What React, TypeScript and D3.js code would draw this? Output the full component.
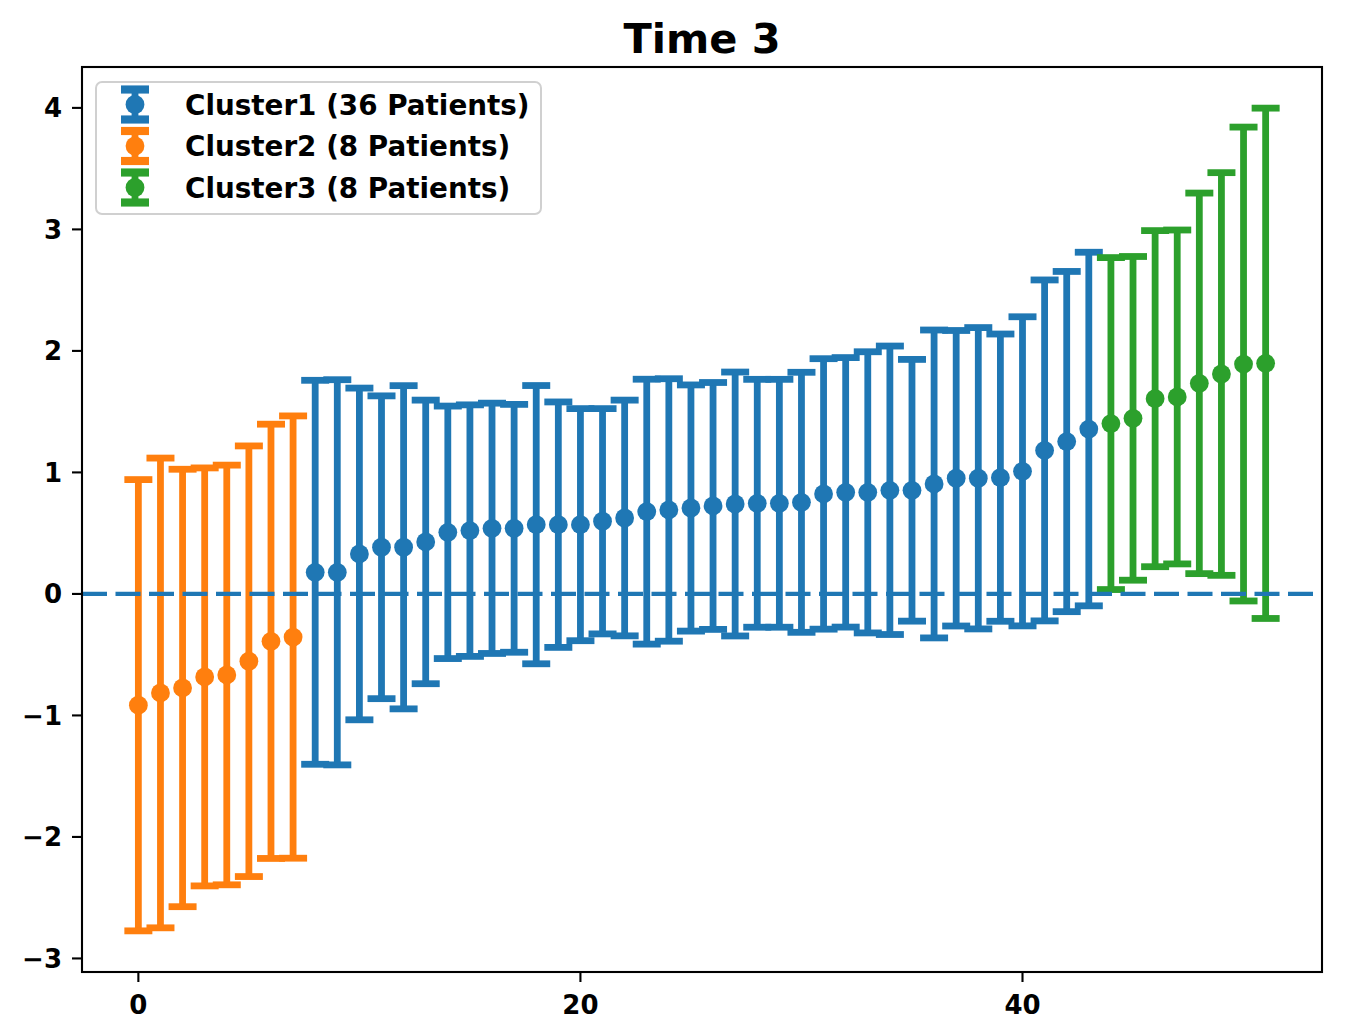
import React from "react";
import * as d3 from "d3";

// ---- data ----
const title = "Time 3";
const clusterNames = ["Cluster1 (36 Patients)", "Cluster2 (8 Patients)", "Cluster3 (8 Patients)"];
const clusterColors = ["#1f77b4", "#ff7f0e", "#2ca02c"];

// patient index positions
const cluster2X = d3.range(0, 8);
const cluster1X = d3.range(8, 44);
const cluster3X = d3.range(44, 52);

const cluster2Mean = [-0.916, -0.815, -0.774, -0.683, -0.667, -0.554, -0.39, -0.355];
const cluster2Err = [1.857, 1.933, 1.8, 1.72, 1.727, 1.772, 1.787, 1.82];

const cluster1Mean = [
  0.178, 0.178, 0.329, 0.384, 0.384, 0.428, 0.507, 0.521, 0.54, 0.54, 0.57, 0.57,
  0.57, 0.598, 0.625, 0.677, 0.691, 0.707, 0.724, 0.74, 0.746, 0.746, 0.754, 0.823,
  0.836, 0.836, 0.853, 0.853, 0.905, 0.952, 0.952, 0.957, 1.009, 1.181, 1.254, 1.357,
];
const cluster1Err = [
  1.58, 1.585, 1.365, 1.246, 1.33, 1.167, 1.039, 1.035, 1.03, 1.02, 1.145, 1.01,
  0.955, 0.927, 0.97, 1.09, 1.08, 1.013, 1.016, 1.086, 1.02, 1.02, 1.07, 1.113,
  1.109, 1.157, 1.187, 1.077, 1.267, 1.216, 1.24, 1.182, 1.272, 1.403, 1.4, 1.455,
];

const cluster3Mean = [1.402, 1.445, 1.607, 1.621, 1.733, 1.81, 1.892, 1.898];
const cluster3Err = [1.366, 1.332, 1.383, 1.374, 1.566, 1.657, 1.95, 2.1];

const xTicks = [0, 20, 40];
const yTicks = [-3, -2, -1, 0, 1, 2, 3, 4];

// ---- layout ----
const W = 1345;
const H = 1025;
const L = 82, R = 1322, T = 67, B = 972;
const FONT = "'DejaVu Sans', sans-serif";

type Pt = { x: number; m: number; e: number };
const mk = (xs: number[], ms: number[], es: number[]): Pt[] => xs.map((x, i) => ({ x, m: ms[i], e: es[i] }));

const series = [
  { name: clusterNames[0], color: clusterColors[0], pts: mk(cluster1X, cluster1Mean, cluster1Err) },
  { name: clusterNames[1], color: clusterColors[1], pts: mk(cluster2X, cluster2Mean, cluster2Err) },
  { name: clusterNames[2], color: clusterColors[2], pts: mk(cluster3X, cluster3Mean, cluster3Err) },
];

const allPts = series.flatMap((s) => s.pts);
const xMin = d3.min(allPts, (p) => p.x)!;
const xMax = d3.max(allPts, (p) => p.x)!;
const yMin = d3.min(allPts, (p) => p.m - p.e)!;
const yMax = d3.max(allPts, (p) => p.m + p.e)!;
const xPad = (xMax - xMin) * 0.05;
const yPad = (yMax - yMin) * 0.05;

const x = d3.scaleLinear().domain([xMin - xPad, xMax + xPad]).range([L, R]);
const y = d3.scaleLinear().domain([yMin - yPad, yMax + yPad]).range([B, T]);

const LW = 6.8;
const CAP = 28;
const DOT_R = 9.4;

const fmt = (v: number) => (v < 0 ? "\u2212" + Math.abs(v) : String(v));

export default function App() {
  return (
    <div style={{ position: "absolute", left: 0, top: 0 }}>
      <svg width={W} height={H} viewBox={`0 0 ${W} ${H}`} style={{ display: "block", background: "#fff" }}>
        <rect x={0} y={0} width={W} height={H} fill="#fff" />
        <defs>
          <clipPath id="ax">
            <rect x={L} y={T} width={R - L} height={B - T} />
          </clipPath>
        </defs>
        <g clipPath="url(#ax)">
          {series.map((s) => (
            <g key={s.name} stroke={s.color} fill={s.color}>
              {s.pts.map((p) => {
                const cx = x(p.x);
                const y1 = y(p.m + p.e);
                const y2 = y(p.m - p.e);
                return (
                  <g key={p.x}>
                    <line x1={cx} x2={cx} y1={y1} y2={y2} strokeWidth={LW} />
                    <line x1={cx - CAP / 2} x2={cx + CAP / 2} y1={y1} y2={y1} strokeWidth={LW} />
                    <line x1={cx - CAP / 2} x2={cx + CAP / 2} y1={y2} y2={y2} strokeWidth={LW} />
                    <circle cx={cx} cy={y(p.m)} r={DOT_R} stroke="none" />
                  </g>
                );
              })}
            </g>
          ))}
          <line x1={L} x2={R} y1={y(0)} y2={y(0)} stroke="#1f77b4" strokeWidth={4.4} strokeDasharray="25 8.5" />
        </g>
        {/* frame */}
        <rect x={L} y={T} width={R - L} height={B - T} fill="none" stroke="#000" strokeWidth={2.1} />
        {/* y ticks */}
        {yTicks.map((t) => (
          <g key={t}>
            <line x1={L - 10} x2={L} y1={y(t)} y2={y(t)} stroke="#000" strokeWidth={2.1} />
            <text x={L - 20} y={y(t)} dy="0.36em" textAnchor="end" fontFamily={FONT} fontWeight="bold" fontSize={26}>
              {fmt(t)}
            </text>
          </g>
        ))}
        {/* x ticks */}
        {xTicks.map((t) => (
          <g key={t}>
            <line x1={x(t)} x2={x(t)} y1={B} y2={B + 10} stroke="#000" strokeWidth={2.1} />
            <text x={x(t)} y={B + 42} textAnchor="middle" fontFamily={FONT} fontWeight="bold" fontSize={26}>
              {fmt(t)}
            </text>
          </g>
        ))}
        {/* title */}
        <text x={(L + R) / 2} y={53} textAnchor="middle" fontFamily={FONT} fontWeight="bold" fontSize={41.5}>
          {title}
        </text>
        {/* legend */}
        <g>
          <rect x={96} y={82} width={445} height={132} rx={6} fill="#fff" fillOpacity={0.8} stroke="#d0d0d0" strokeWidth={2} />
          {series.map((s, i) => {
            const cy = 104.5 + i * 41.5;
            const hx = 135;
            return (
              <g key={s.name}>
                <g stroke={s.color} fill={s.color}>
                  <line x1={hx} x2={hx} y1={cy - 16} y2={cy + 16} strokeWidth={LW} />
                  <line x1={hx - 14} x2={hx + 14} y1={cy - 15} y2={cy - 15} strokeWidth={LW * 1.2} />
                  <line x1={hx - 14} x2={hx + 14} y1={cy + 15} y2={cy + 15} strokeWidth={LW * 1.2} />
                  <circle cx={hx} cy={cy} r={DOT_R} stroke="none" />
                </g>
                <text x={185} y={cy} dy="0.36em" fontFamily={FONT} fontWeight="bold" fontSize={27.8} fill="#000">
                  {s.name}
                </text>
              </g>
            );
          })}
        </g>
      </svg>
    </div>
  );
}
